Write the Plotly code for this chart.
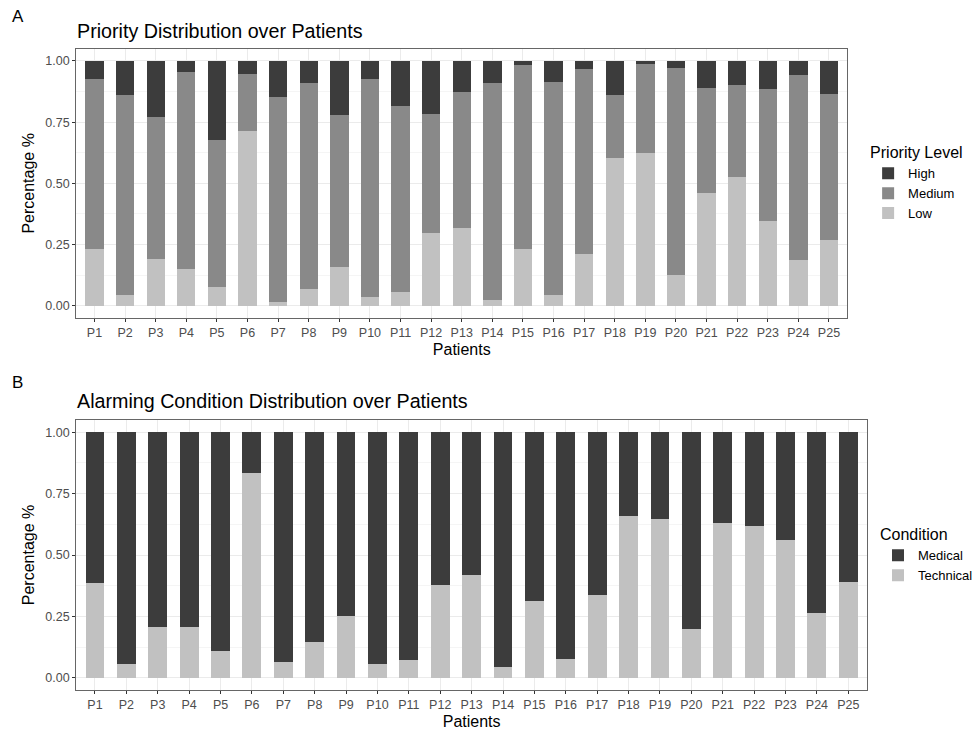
import plotly.graph_objects as go

patients = [f"P{i}" for i in range(1, 26)]

# Panel A: cumulative boundaries
low = [0.230, 0.043, 0.190, 0.149, 0.076, 0.712, 0.014, 0.068, 0.160, 0.034, 0.058, 0.296, 0.318,
       0.023, 0.231, 0.043, 0.212, 0.602, 0.625, 0.126, 0.461, 0.524, 0.348, 0.186, 0.270]
low_plus_medium = [0.928, 0.861, 0.769, 0.955, 0.678, 0.947, 0.853, 0.909, 0.779, 0.925, 0.815, 0.785, 0.874,
                   0.909, 0.984, 0.913, 0.969, 0.861, 0.988, 0.973, 0.891, 0.901, 0.885, 0.944, 0.867]
medium = [round(m - l, 3) for m, l in zip(low_plus_medium, low)]
high = [round(1 - m, 3) for m in low_plus_medium]

# Panel B
technical = [0.387, 0.056, 0.206, 0.205, 0.107, 0.834, 0.065, 0.144, 0.250, 0.056, 0.072, 0.377, 0.417,
             0.043, 0.312, 0.076, 0.336, 0.659, 0.646, 0.198, 0.631, 0.617, 0.562, 0.265, 0.391]
medical = [round(1 - t, 3) for t in technical]

C_DARK = "#3c3c3c"
C_MID = "#898989"
C_LIGHT = "#c1c1c1"
FONT = "Liberation Sans, Arial, sans-serif"

fig = go.Figure()
BW = 0.6
fig.add_trace(go.Bar(x=patients, y=low, name="Low", marker_color=C_LIGHT, width=BW,
                     xaxis="x", yaxis="y", legend="legend", marker_line_width=0))
fig.add_trace(go.Bar(x=patients, y=medium, name="Medium", marker_color=C_MID, width=BW,
                     xaxis="x", yaxis="y", legend="legend", marker_line_width=0))
fig.add_trace(go.Bar(x=patients, y=high, name="High", marker_color=C_DARK, width=BW,
                     xaxis="x", yaxis="y", legend="legend", marker_line_width=0))
fig.add_trace(go.Bar(x=patients, y=technical, name="Technical", marker_color=C_LIGHT, width=BW,
                     xaxis="x2", yaxis="y2", legend="legend2", marker_line_width=0))
fig.add_trace(go.Bar(x=patients, y=medical, name="Medical", marker_color=C_DARK, width=BW,
                     xaxis="x2", yaxis="y2", legend="legend2", marker_line_width=0))

W, H = 978, 731

ax_common = dict(
    showline=True, linecolor="#666666", linewidth=1, mirror=True,
    ticks="outside", ticklen=3, tickcolor="#333333", tickwidth=1,
    tickfont=dict(size=12.5, color="#4d4d4d", family=FONT),
    showgrid=True, gridcolor="#ebebeb", gridwidth=1, zeroline=False,
)
xa = dict(ax_common, type="category", categoryorder="array", categoryarray=patients,
          range=[-0.6, 24.6], title=dict(text="Patients", font=dict(size=16, color="black", family=FONT), standoff=4))
ya = dict(ax_common, range=[-0.05, 1.05], tickvals=[0, 0.25, 0.5, 0.75, 1.0],
          ticktext=["0.00", "0.25", "0.50", "0.75", "1.00"],
          minor=dict(tickvals=[0.125, 0.375, 0.625, 0.875], showgrid=True, gridcolor="#f5f5f5", ticks=""),
          title=dict(text="Percentage %", font=dict(size=16, color="black", family=FONT), standoff=6))

fig.update_layout(
    width=W, height=H,
    margin=dict(l=0, r=0, t=0, b=0),
    paper_bgcolor="white", plot_bgcolor="white",
    barmode="stack", bargap=0.4,
    font=dict(family=FONT, color="black"),
    xaxis=dict(xa, domain=[77 / W, 857 / W], anchor="y"),
    yaxis=dict(ya, domain=[1 - 318 / H, 1 - 48.7 / H], anchor="x"),
    xaxis2=dict(xa, domain=[77 / W, 877 / W], anchor="y2"),
    yaxis2=dict(ya, domain=[1 - 690 / H, 1 - 420 / H], anchor="x2"),
    legend=dict(title=dict(text="Priority Level", font=dict(size=16, family=FONT)),
                font=dict(size=13, family=FONT, color="black"), traceorder="reversed",
                x=878 / W, xanchor="left", y=1 - 183 / H, yanchor="middle",
                bgcolor="rgba(0,0,0,0)", itemclick=False),
    legend2=dict(title=dict(text="Condition", font=dict(size=16, family=FONT)),
                 font=dict(size=13, family=FONT, color="black"), traceorder="reversed",
                 x=888 / W, xanchor="left", y=1 - 555 / H, yanchor="middle",
                 bgcolor="rgba(0,0,0,0)", itemclick=False),
    annotations=[
        dict(text="A", x=10 / W, y=1 - 16 / H, xref="paper", yref="paper", xanchor="left", yanchor="middle",
             showarrow=False, font=dict(size=17, family=FONT, color="black")),
        dict(text="Priority Distribution over Patients", x=76 / W, y=1 - 31 / H, xref="paper", yref="paper",
             xanchor="left", yanchor="middle", showarrow=False, font=dict(size=19.7, family=FONT, color="black")),
        dict(text="B", x=10 / W, y=1 - 383 / H, xref="paper", yref="paper", xanchor="left", yanchor="middle",
             showarrow=False, font=dict(size=17, family=FONT, color="black")),
        dict(text="Alarming Condition Distribution over Patients", x=76 / W, y=1 - 401 / H, xref="paper", yref="paper",
             xanchor="left", yanchor="middle", showarrow=False, font=dict(size=19.7, family=FONT, color="black")),
    ],
)

fig.write_html("out.html", config={"displayModeBar": False},
               post_script="document.body.style.margin='0px';")
